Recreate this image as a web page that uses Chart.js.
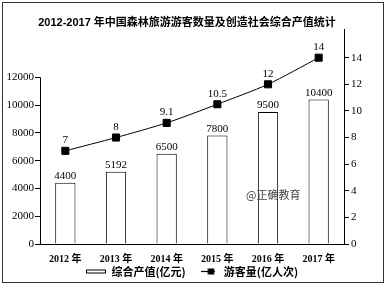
<!DOCTYPE html>
<html>
<head>
<meta charset="utf-8">
<script src="https://cdn.jsdelivr.net/npm/chart.js@4.4.1/dist/chart.umd.min.js"></script>
<style>
  html, body { margin: 0; padding: 0; background: #fff; }
  #wrap { width: 390px; height: 287px; }
</style>
</head>
<body>
<div id="wrap"><canvas id="c" width="390" height="287"></canvas></div>
<script>
const titleText = '2012-2017 年中国森林旅游游客数量及创造社会综合产值统计';
const categories = ['2012 年', '2013 年', '2014 年', '2015 年', '2016 年', '2017 年'];
const outputValues = [4400, 5192, 6500, 7800, 9500, 10400];   // 综合产值(亿元)
const visitorValues = [7, 8, 9.1, 10.5, 12, 14];               // 游客量(亿人次)
const barLabel = '综合产值(亿元)';
const lineLabel = '游客量(亿人次)';
const leftTicks = [0, 2000, 4000, 6000, 8000, 10000, 12000];
const rightTicks = [0, 2, 4, 6, 8, 10, 12, 14];
const watermark = '@正确教育';

const serif = "'Liberation Serif', 'Noto Sans CJK SC', serif";
const sans = "'Liberation Sans', 'Noto Sans CJK SC', sans-serif";

// legend symbols
const rectImg = document.createElement('canvas');
rectImg.width = 20; rectImg.height = 6;
(function(){ const g = rectImg.getContext('2d'); g.strokeStyle = '#000'; g.lineWidth = 1; g.fillStyle = '#fff';
  g.fillRect(0.5, 1.5, 19, 3); g.strokeRect(0.5, 1.5, 19, 3); })();
const lineImg = document.createElement('canvas');
lineImg.width = 14; lineImg.height = 7;
(function(){ const g = lineImg.getContext('2d'); g.strokeStyle = '#000'; g.lineWidth = 1.2;
  g.beginPath(); g.moveTo(0, 3.5); g.lineTo(14, 3.5); g.stroke();
  g.fillStyle = '#000'; g.fillRect(6.5, 0.5, 6.5, 6); })();

const framePlugin = {
  id: 'frame',
  beforeDraw(chart) {
    const ctx = chart.ctx;
    ctx.save();
    ctx.fillStyle = '#fff';
    ctx.fillRect(0, 0, chart.width, chart.height);
    ctx.strokeStyle = '#333';
    ctx.lineWidth = 1;
    ctx.strokeRect(2.5, 2.5, 381, 280);
    ctx.restore();
  },
  afterDraw(chart) {
    const ctx = chart.ctx;
    const y = chart.scales.y;
    ctx.save();
    ctx.strokeStyle = '#000';
    ctx.lineWidth = 1;
    const x = Math.round(chart.chartArea.left) + 0.5;
    ctx.beginPath();
    ctx.moveTo(x, y.getPixelForValue(0));
    ctx.lineTo(x, y.getPixelForValue(leftTicks[leftTicks.length - 1]));
    ctx.stroke();
    ctx.fillStyle = '#444';
    ctx.font = "11px 'Noto Sans CJK SC', sans-serif";
    ctx.textBaseline = 'alphabetic';
    ctx.fillText(watermark, 246, 199);
    ctx.restore();
  }
};

const labelPlugin = {
  id: 'valueLabels',
  afterDatasetsDraw(chart) {
    const ctx = chart.ctx;
    ctx.save();
    ctx.fillStyle = '#000';
    ctx.font = '11px ' + serif;
    ctx.textAlign = 'center';
    ctx.textBaseline = 'bottom';
    chart.getDatasetMeta(0).data.forEach((el, i) => {
      ctx.fillText(String(outputValues[i]), el.x, el.y - 1);
    });
    chart.getDatasetMeta(1).data.forEach((el, i) => {
      ctx.fillText(String(visitorValues[i]), el.x, el.y - 5);
    });
    ctx.restore();
  }
};

Chart.defaults.font.family = serif;
Chart.defaults.color = '#000';

new Chart(document.getElementById('c'), {
  type: 'bar',
  data: {
    labels: categories,
    datasets: [
      {
        type: 'bar',
        label: barLabel,
        data: outputValues,
        yAxisID: 'y',
        backgroundColor: '#fff',
        borderColor: '#000',
        borderWidth: 1,
        barPercentage: 0.4,
        categoryPercentage: 1,
        order: 2
      },
      {
        type: 'line',
        label: lineLabel,
        data: visitorValues,
        yAxisID: 'y1',
        borderColor: '#000',
        borderWidth: 1,
        backgroundColor: '#000',
        pointStyle: 'rect',
        pointRadius: 5,
        pointBackgroundColor: '#000',
        pointBorderColor: '#000',
        tension: 0.25,
        fill: false,
        order: 1
      }
    ]
  },
  options: {
    responsive: false,
    animation: false,
    devicePixelRatio: 1,
    layout: { padding: { left: 6, right: 22, top: 0, bottom: 0 } },
    plugins: {
      title: {
        display: true,
        text: titleText,
        color: '#000',
        font: { family: sans, size: 11, weight: 'bold' },
        padding: { top: 16, bottom: 0 }
      },
      legend: {
        display: true,
        position: 'bottom',
        fullSize: false,
        labels: {
          color: '#000',
          font: { family: "'Noto Sans CJK SC', sans-serif", size: 11, weight: 'bold' },
          usePointStyle: true,
          pointStyleWidth: 20,
          padding: 0,
          generateLabels(chart) {
            const items = Chart.defaults.plugins.legend.labels.generateLabels(chart);
            items.sort((a, b) => a.datasetIndex - b.datasetIndex);
            items.forEach(it => {
              if (it.datasetIndex === 0) { it.pointStyle = rectImg; it.text = barLabel + '     '; }
              else { it.pointStyle = lineImg; it.text = lineLabel; }
            });
            return items;
          }
        }
      },
      tooltip: { enabled: false }
    },
    scales: {
      x: {
        grid: { display: false },
        border: { display: true, color: '#000', width: 1 },
        ticks: { color: '#000', font: { family: serif, size: 10, weight: 'bold' }, padding: 1, maxRotation: 0 }
      },
      y: {
        position: 'left',
        min: 0,
        max: 15456,
        grid: { drawOnChartArea: false, drawTicks: true, tickLength: 5, color: '#000' },
        border: { display: false },
        ticks: { color: '#000', font: { family: serif, size: 11 }, padding: 1, callback: v => String(v) },
        afterBuildTicks(scale) { scale.ticks = leftTicks.map(v => ({ value: v })); },
        afterFit(scale) { scale.width = 34; }
      },
      y1: {
        position: 'right',
        min: 0,
        max: 16.14,
        grid: { drawOnChartArea: false, drawTicks: true, tickLength: 5, color: '#000' },
        border: { display: true, color: '#000', width: 1 },
        ticks: { color: '#000', font: { family: serif, size: 11 }, padding: 2, callback: v => String(v) },
        afterBuildTicks(scale) { scale.ticks = rightTicks.map(v => ({ value: v })); },
        afterFit(scale) { scale.width = 24; }
      }
    }
  },
  plugins: [framePlugin, labelPlugin]
});
</script>
</body>
</html>
